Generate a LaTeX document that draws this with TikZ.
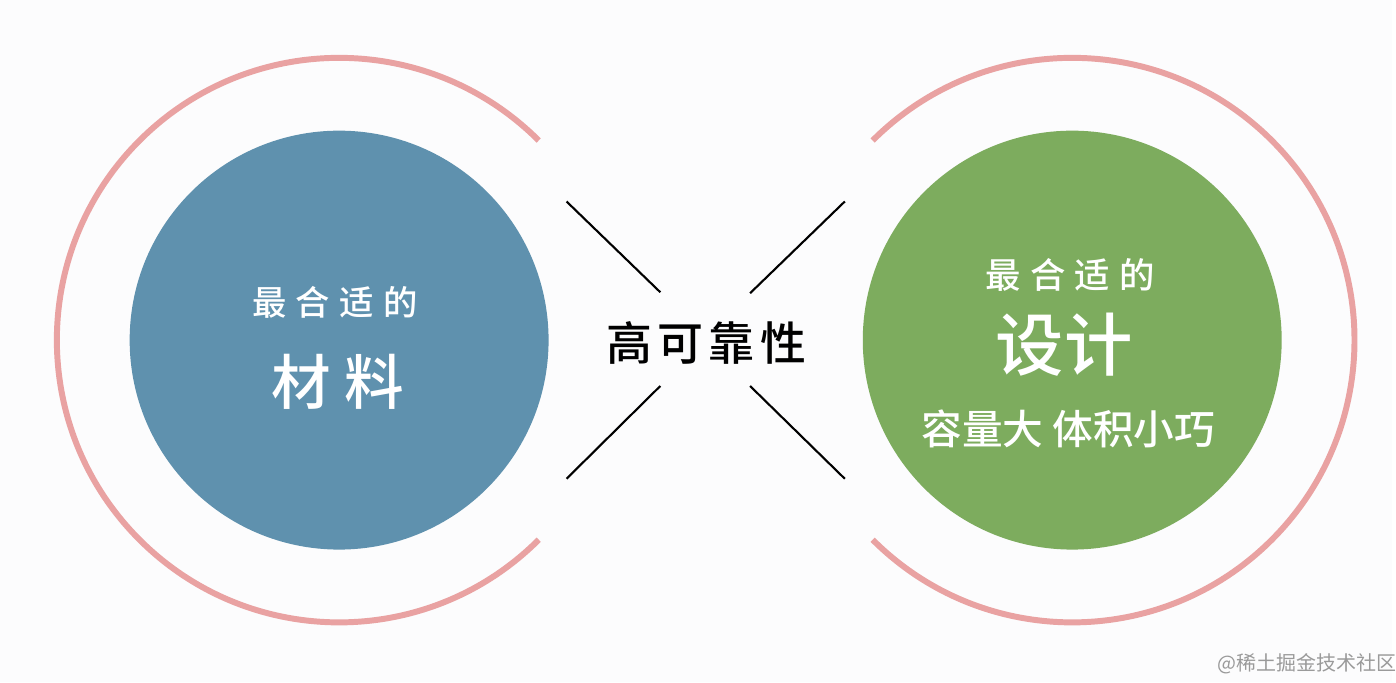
\documentclass[tikz,border=0pt]{standalone}
\usepackage{fontspec}
\newfontfamily\cjk{Noto Sans CJK SC Medium}
\newfontfamily\cjkreg{Noto Sans CJK SC}
\definecolor{bluefill}{HTML}{5F91AE}
\definecolor{greenfill}{HTML}{7DAC5E}
\definecolor{ringred}{HTML}{E9A2A2}
\definecolor{bgpaper}{HTML}{FCFCFD}
\definecolor{markgray}{HTML}{9A9A9A}
\tikzset{
  ring/.style={draw=ringred, line width=1.7pt},
  cross/.style={draw=black, line width=0.6pt},
  disc/.style={circle, minimum size=4.2cm, inner sep=0pt},
  wtxt/.style={text=white, inner sep=0pt}
}
\newcommand{\fsz}[2]{\cjk\fontsize{#1}{#1}\selectfont\addfontfeature{LetterSpace=#2}}
\begin{document}
\begin{tikzpicture}
    \fill[bgpaper] (0,0) rectangle (13.96,6.84);
    \node[disc, fill=bluefill] (mat) at (3.40,3.43) {};
    \node[disc, fill=greenfill] (des) at (10.75,3.43) {};
    \draw[ring] (mat.center) ++(45:2.83) arc (45:315:2.83);
    \draw[ring] (des.center) ++(135:2.83) arc (135:-135:2.83);
    \node[inner sep=0pt] (rel) at (7.08,3.40) {\fsz{13.1}{12}高可靠性};
    \draw[cross] (5.68,4.82) -- (6.62,3.91);
    \draw[cross] (8.47,4.82) -- (7.52,3.90);
    \draw[cross] (5.68,2.04) -- (6.62,2.97);
    \draw[cross] (8.47,2.04) -- (7.52,2.97);
    \node[wtxt] (matA) at (3.36,3.81) {\fsz{9.8}{28}最合适的};
    \node[wtxt] (matB) at (3.39,3.01) {\fsz{17}{22}材料};
    \node[wtxt] (desA) at (10.73,4.08) {\fsz{10.1}{26}最合适的};
    \node[wtxt] (desB) at (10.67,3.38) {\fsz{19.5}{0}设计};
    \node[wtxt] (desC) at (10.71,2.54) {\fsz{11.6}{0}容量大 体积小巧};
    \node[text=markgray, inner sep=0pt] (mark) at (13.10,0.19) {\cjkreg\fontsize{5.7}{6}\selectfont @稀土掘金技术社区};
\end{tikzpicture}
\end{document}
